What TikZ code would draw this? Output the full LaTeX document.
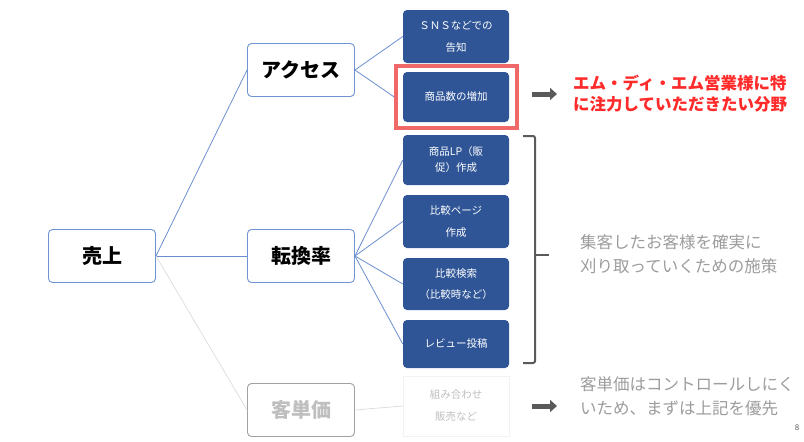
\documentclass[tikz,border=0pt]{standalone}
\usepackage{fontspec}
\setmainfont{Noto Sans CJK JP}
\usetikzlibrary{arrows.meta}
\definecolor{nodeb}{HTML}{6F94D0}
\definecolor{linkb}{HTML}{6A8FCF}
\definecolor{boxblue}{HTML}{2F5597}
\definecolor{hired}{HTML}{F06868}
\definecolor{txtred}{HTML}{FF2A2A}
\definecolor{txtgray}{HTML}{9C9C9C}
\definecolor{palegray}{HTML}{BFBFBF}
\definecolor{brk}{HTML}{5A5A5A}
\begin{document}
\begin{tikzpicture}[x=1pt,y=-1pt,
  mainbox/.style={draw=nodeb, line width=0.9pt, rounded corners=4pt, fill=white,
    minimum width=107pt, minimum height=53pt, inner sep=0pt,
    font=\fontsize{20}{24}\selectfont\bfseries},
  greybox/.style={mainbox, draw=palegray!85!black, text=palegray},
  bluebox/.style={fill=boxblue, rounded corners=4pt, minimum width=106pt, inner sep=0pt,
    text=white, align=center, font=\fontsize{10.5}{13}\selectfont},
  link/.style={draw=linkb, line width=0.8pt},
  palelink/.style={draw=black!14, line width=0.7pt},
  fatarrow/.style={draw=brk, line width=5pt, -{Triangle[length=7pt,width=12pt]}},
  note/.style={anchor=west, inner sep=0pt, align=left, font=\fontsize{16.5}{24}\selectfont}
]
\useasboundingbox (0,0) rectangle (804,442);

% level 1 and 2
\node[mainbox] (uriage) at (102,256) {売上};
\node[mainbox] (access) at (301,70) {アクセス};
\node[mainbox] (tenkan) at (301,256) {転換率};
\node[greybox] (kyaku) at (301,410) {客単価};

% level 3
\node[bluebox, minimum height=53pt] (b1) at (456,36.5) {ＳＮＳなどでの\\[9pt]告知};
\node[draw=hired, line width=3.5pt, minimum width=121pt, minimum height=62pt, inner sep=0pt] (red) at (456.5,97) {};
\node[bluebox, minimum height=50pt] (b2) at (456,97) {商品数の増加};
\node[bluebox, minimum height=50pt] (b3) at (456,160) {商品LP（販\\[3pt]促）作成};
\node[bluebox, minimum height=53pt] (b4) at (456,221.5) {比較ページ\\[9pt]作成};
\node[bluebox, minimum height=52pt] (b5) at (456,284) {比較検索\\[8pt]（比較時など）};
\node[bluebox, minimum height=48pt] (b6) at (456,344) {レビュー投稿};
\node[draw=black!5, fill=white, minimum width=106pt, minimum height=60pt, inner sep=0pt,
  align=center, text=palegray, font=\fontsize{10.5}{13}\selectfont] (b7) at (456,406)
  {組み合わせ\\[9pt]販売など};

% connectors
\draw[link] (uriage.east) -- (access.west);
\draw[link] (uriage.east) -- (tenkan.west);
\draw[palelink] (uriage.east) -- (kyaku.west);
\draw[link] (access.east) -- (b1.west);
\draw[link] (access.east) -- (red.west);
\draw[link] (tenkan.east) -- (b3.west);
\draw[link] (tenkan.east) -- (b4.west);
\draw[link] (tenkan.east) -- (b5.west);
\draw[link] (tenkan.east) -- (b6.west);
\draw[palelink] (kyaku.east) -- (b7.west);

% bracket
\draw[draw=brk, line width=2pt, rounded corners=2pt] (523,136) -- (535,136) -- (535,363) -- (523,363);
\draw[draw=brk, line width=2pt] (535,255) -- (549,255);

% arrows
\coordinate (a1s) at (532,94);
\coordinate (a1e) at (557,94);
\coordinate (a2s) at (532,406);
\coordinate (a2e) at (557,406);
\draw[fatarrow] (a1s) -- (a1e);
\draw[fatarrow] (a2s) -- (a2e);

% notes
\node[note, text=txtred, font=\fontsize{16.5}{21}\selectfont\bfseries] (n1) at (573,93.5)
  {エム・ディ・エム営業様に特\\に注力していただきたい分野};
\node[note, text=txtgray] (n2) at (580,254) {集客したお客様を確実に\\刈り取っていくための施策};
\node[note, text=txtgray] (n3) at (580,396.5) {客単価はコントロールしにく\\いため、まずは上記を優先};
\node[inner sep=0pt, text=brk, font=\fontsize{8}{9}\selectfont] (pg) at (797,428) {8};
\end{tikzpicture}
\end{document}
